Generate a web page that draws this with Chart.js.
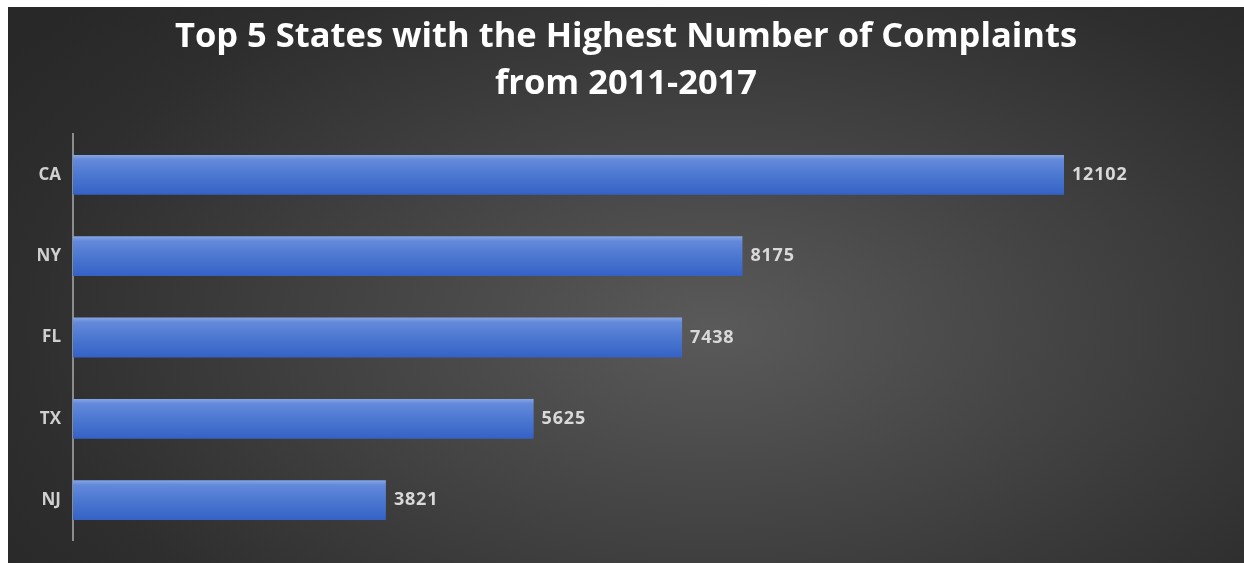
<!DOCTYPE html>
<html>
<head>
<meta charset="utf-8">
<script src="https://cdn.jsdelivr.net/npm/chart.js@4.4.1/dist/chart.umd.min.js"></script>
<style>
    html, body { margin: 0; padding: 0; background: #fff; }
    #box {
        position: absolute; left: 8px; top: 7px; width: 1236px; height: 556px;
        background: radial-gradient(ellipse 70% 85% at 57% 58%, #5a5a5a 0%, #444 40%, #2e2e2e 80%, #282828 100%);
    }
    canvas { display: block; }
</style>
</head>
<body>
<div id="box"><canvas id="grafico" width="1236" height="556"></canvas></div>
<script>
var estados = ["CA", "NY", "FL", "TX", "NJ"];
var reclamacoes = [12102, 8175, 7438, 5625, 3821];
var titulo = ["Top 5 States with the Highest Number of Complaints", "from 2011-2017"];

// gradiente vertical de cada barra, calculado pela escala y
function corBarra(context) {
    var chart = context.chart;
    var y = chart.scales && chart.scales.y;
    if (!y || context.dataIndex === undefined) return "#4a76d0";
    var centro = y.getPixelForValue(context.dataIndex);
    var meia = (y.height / estados.length) * 0.49 / 2;
    if (!isFinite(centro) || !isFinite(meia) || meia <= 0) return "#4a76d0";
    var g = chart.ctx.createLinearGradient(0, centro - meia, 0, centro + meia);
    g.addColorStop(0, "#86a6e6");
    g.addColorStop(0.12, "#6389da");
    g.addColorStop(0.55, "#4a76d0");
    g.addColorStop(1, "#3561c6");
    return g;
}

// escreve o valor no fim de cada barra
var rotulos = {
    id: "rotulos",
    afterDatasetsDraw: function (chart) {
        var ctx = chart.ctx;
        var meta = chart.getDatasetMeta(0);
        ctx.save();
        ctx.font = "bold 18px 'Open Sans'";
        ctx.letterSpacing = "0.8px";
        ctx.fillStyle = "#d9d9d9";
        ctx.textBaseline = "middle";
        ctx.textAlign = "left";
        meta.data.forEach(function (bar, i) {
            ctx.fillText(reclamacoes[i], bar.x + 8, bar.y);
        });
        ctx.restore();
    }
};

function carregarGrafico() {
    var ctx = document.getElementById("grafico");
    new Chart(ctx, {
        type: "bar",
        data: {
            labels: estados,
            datasets: [{
                data: reclamacoes,
                backgroundColor: corBarra,
                borderWidth: 0,
                categoryPercentage: 0.49,
                barPercentage: 1
            }]
        },
        options: {
            indexAxis: "y",
            responsive: false,
            animation: false,
            layout: { padding: { left: 0, right: 0, bottom: 21, top: 0 } },
            plugins: {
                legend: { display: false },
                tooltip: { enabled: false },
                title: {
                    display: true,
                    text: titulo,
                    color: "#ffffff",
                    font: { family: "'Open Sans'", size: 34.5, weight: "bold", lineHeight: 1.38 },
                    padding: { top: 6, bottom: 26 }
                }
            },
            scales: {
                x: { display: false, min: 0, max: 14300 },
                y: {
                    afterFit: function (scale) { scale.width = 65; },
                    grid: { display: false, drawTicks: false },
                    border: { display: true, color: "#8c8c8c", width: 2 },
                    ticks: {
                        color: "#d0d0d0",
                        padding: 12,
                        font: { family: "'Open Sans'", size: 17, weight: "bold" }
                    }
                }
            }
        },
        plugins: [rotulos]
    });
}

window.onload = function () {
    carregarGrafico();
};
</script>
</body>
</html>
